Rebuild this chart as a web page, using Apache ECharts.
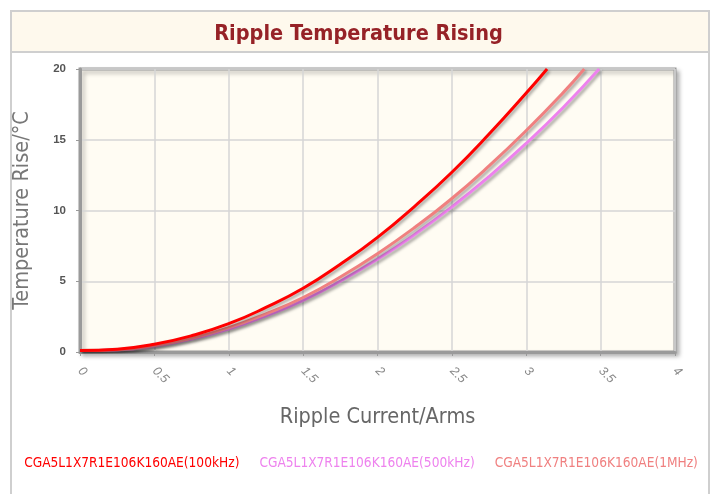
<!DOCTYPE html>
<html>
<head>
<meta charset="utf-8">
<script src="https://cdn.jsdelivr.net/npm/echarts@6/dist/echarts.min.js"></script>
<style>
  html, body { margin: 0; padding: 0; background: #fff; }
  #chart { width: 717px; height: 494px; }
</style>
</head>
<body>
<div id="chart"></div>
<script>
// values
const seriesNames = [
  'CGA5L1X7R1E106K160AE(100kHz)',
  'CGA5L1X7R1E106K160AE(500kHz)',
  'CGA5L1X7R1E106K160AE(1MHz)'
]
const seriesColors = ['#ff0000', '#ee82ee', '#f08080']

const current100k = [0, 0.25, 0.5, 0.75, 1, 1.25, 1.5, 1.75, 2, 2.25, 2.5, 2.75, 3, 3.14]
const temp100k = [0.1, 0.2, 0.55, 1.15, 2.0, 3.15, 4.5, 6.2, 8.1, 10.3, 12.7, 15.4, 18.3, 20.0]

const current500k = [0, 0.25, 0.5, 0.75, 1, 1.25, 1.5, 1.75, 2, 2.25, 2.5, 2.75, 3, 3.25, 3.49]
const temp500k = [0.1, 0.15, 0.42, 0.92, 1.62, 2.55, 3.65, 5.0, 6.55, 8.3, 10.25, 12.4, 14.75, 17.3, 20.0]

const current1M = [0, 0.25, 0.5, 0.75, 1, 1.25, 1.5, 1.75, 2, 2.25, 2.5, 2.75, 3, 3.25, 3.39]
const temp1M = [0.1, 0.16, 0.45, 0.98, 1.72, 2.7, 3.85, 5.3, 6.95, 8.8, 10.85, 13.15, 15.65, 18.35, 20.0]

const xTicks = [0, 0.5, 1, 1.5, 2, 2.5, 3, 3.5, 4]
const yTicks = [0, 5, 10, 15, 20]

const pairs = (xs, ys) => xs.map((x, i) => [x, ys[i]])
const allData = [
  pairs(current100k, temp100k),
  pairs(current500k, temp500k),
  pairs(current1M, temp1M)
]

const chart = echarts.init(document.getElementById('chart'), null, { renderer: 'canvas' })

const condensed = '"DejaVu Sans Condensed", "Liberation Sans Narrow", "DejaVu Sans", sans-serif'

const option = {
  backgroundColor: '#ffffff',
  animation: false,
  graphic: [
    {
      type: 'rect',
      shape: { x: 11, y: 11, width: 698, height: 500 },
      style: { fill: '#ffffff', stroke: '#cfcfcf', lineWidth: 2 },
      z: -10
    },
    {
      type: 'rect',
      shape: { x: 11, y: 11, width: 698, height: 41 },
      style: { fill: '#fef9ed', stroke: '#cfcfcf', lineWidth: 2 },
      z: -9
    }
  ],
  title: {
    text: 'Ripple Temperature Rising',
    left: 'center',
    top: 18,
    textStyle: {
      color: '#962227',
      fontSize: 21.5,
      fontWeight: 'bold',
      fontFamily: condensed
    }
  },
  legend: {
    bottom: 19,
    left: 'center',
    icon: 'none',
    itemWidth: 0,
    itemGap: 15,
    data: seriesNames.map((n, i) => ({ name: n, textStyle: { color: seriesColors[i] } })),
    textStyle: { fontSize: 13.6, fontFamily: condensed }
  },
  grid: {
    left: 80,
    right: 42,
    top: 69,
    bottom: 142,
    show: true,
    backgroundColor: '#fffcf3',
    borderColor: '#9a9a9a',
    borderWidth: 3,
    shadowColor: 'rgba(0,0,0,0.25)',
    shadowBlur: 4,
    shadowOffsetX: 3,
    shadowOffsetY: 3
  },
  xAxis: {
    type: 'value',
    min: 0,
    max: 4,
    interval: 0.5,
    name: 'Ripple Current/Arms',
    nameLocation: 'middle',
    nameGap: 54,
    nameTextStyle: { color: '#666', fontSize: 21.5, fontFamily: condensed },
    axisLine: { show: true, lineStyle: { color: '#9a9a9a', width: 3 } },
    axisTick: { show: true, length: 4, lineStyle: { color: '#9a9a9a', width: 1 } },
    axisLabel: {
      color: '#888',
      fontSize: 12.5,
      rotate: -45,
      margin: 17,
      fontStyle: 'italic',
      formatter: v => xTicks.includes(v) ? String(v) : ''
    },
    splitLine: { show: true, lineStyle: { color: '#d6d6d6', width: 1.5 } }
  },
  yAxis: {
    type: 'value',
    min: 0,
    max: 20,
    interval: 5,
    name: 'Temperature Rise/°C',
    nameLocation: 'middle',
    nameGap: 47,
    nameTextStyle: { color: '#777', fontSize: 21.5, fontFamily: condensed },
    axisLine: { show: true, lineStyle: { color: '#9a9a9a', width: 3 } },
    axisTick: { show: true, length: 4, lineStyle: { color: '#9a9a9a', width: 1 } },
    axisLabel: {
      color: '#555',
      fontSize: 11.5,
      fontWeight: 'bold',
      margin: 14,
      formatter: v => yTicks.includes(v) ? String(v) : ''
    },
    splitLine: { show: true, lineStyle: { color: '#d6d6d6', width: 1.5 } }
  },
  series: seriesNames.map((n, i) => ({
    name: n,
    type: 'line',
    smooth: true,
    showSymbol: false,
    clip: true,
    data: allData[i],
    lineStyle: {
      color: seriesColors[i],
      width: 3,
      shadowColor: 'rgba(0,0,0,0.35)',
      shadowBlur: 3,
      shadowOffsetX: 2,
      shadowOffsetY: 2
    },
    itemStyle: { color: seriesColors[i] },
    z: i === 0 ? 4 : (i === 1 ? 2 : 3)
  }))
}

chart.setOption(option)
</script>
</body>
</html>
